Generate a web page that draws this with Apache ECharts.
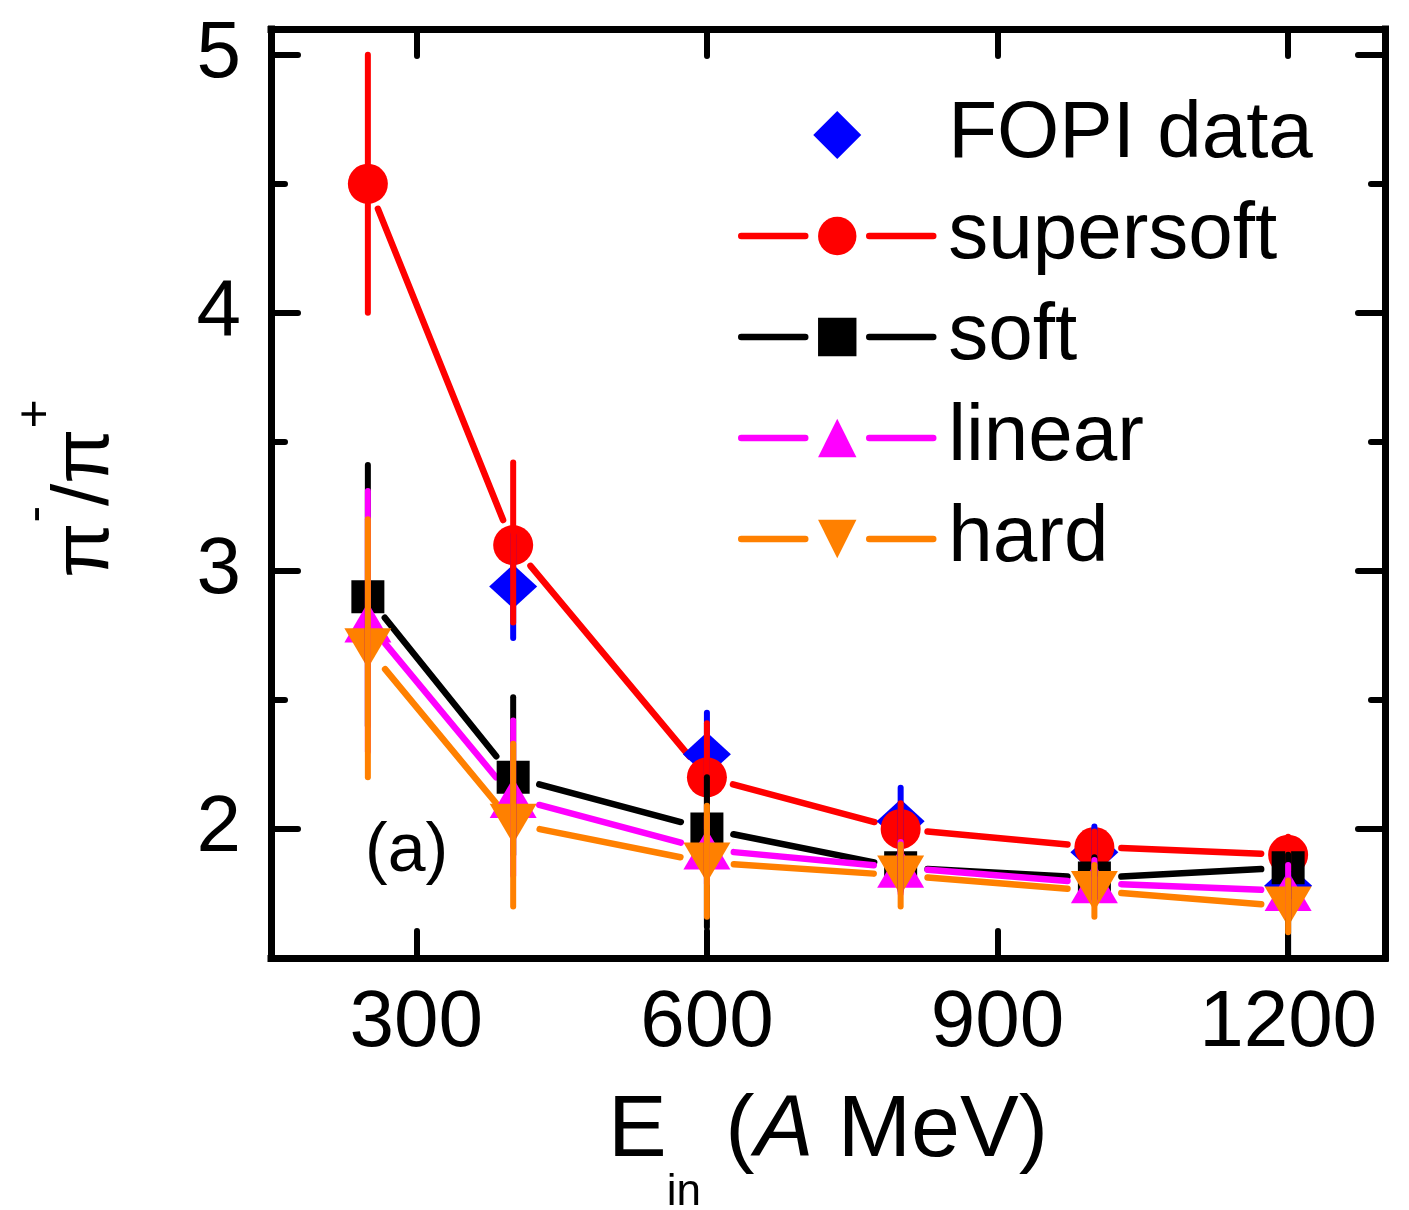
<!DOCTYPE html>
<html><head><meta charset="utf-8">
<script src="https://cdn.jsdelivr.net/npm/echarts@6/dist/echarts.min.js"></script>
<style>html,body{margin:0;padding:0;background:#fff}#c{width:1409px;height:1210px}</style>
</head><body><div id="c"></div>
<script>
// ---- data ----
const energies = [250, 400, 600, 800, 1000, 1200];

const fopiEnergies = [400, 600, 800, 1000, 1200];
const fopiRatio = [2.94, 2.29, 2.03, 1.91, 1.78];
const fopiLow   = [2.74, 2.13, 1.90, 1.82, 1.73];
const fopiHigh  = [3.14, 2.45, 2.16, 2.01, 1.83];

const supersoftRatio = [4.5, 3.1, 2.2, 2.0, 1.93, 1.9];
const supersoftLow   = [4.0, 2.8, 2.0, 1.9, 1.87, 1.84];
const supersoftHigh  = [5.0, 3.42, 2.41, 2.1, 1.99, 1.97];

const softRatio = [2.9, 2.2, 2.0, 1.85, 1.81, 1.85];
const softLow   = [2.4, 1.9, 1.62, 1.76, 1.73, 1.5];
const softHigh  = [3.41, 2.51, 2.2, 1.94, 1.89, 1.9];

const linearRatio = [2.8, 2.12, 1.92, 1.85, 1.79, 1.76];
const linearLow   = [2.3, 1.82, 1.79, 1.75, 1.72, 1.66];
const linearHigh  = [3.31, 2.42, 2.05, 1.95, 1.88, 1.86];

const hardRatio = [2.7, 2.02, 1.87, 1.82, 1.76, 1.70];
const hardLow   = [2.2, 1.7, 1.66, 1.70, 1.66, 1.60];
const hardHigh  = [3.2, 2.33, 2.09, 1.94, 1.86, 1.80];

const seriesNames = ['FOPI data', 'supersoft', 'soft', 'linear', 'hard'];
const xTicks = [300, 600, 900, 1200];
const yMajorTicks = [2, 3, 4, 5];
const yMinorTicks = [2.5, 3.5, 4.5];
const panelLabel = '(a)';

// ---- chart ----
const FONT = 'Liberation Sans, Arial, sans-serif';
const chart = echarts.init(document.getElementById('c'), null, {renderer: 'canvas'});

function pairs(xs, ys) { return xs.map((x, i) => [x, ys[i]]); }

function errorSeries(xs, lo, hi, color, z) {
  return {
    type: 'custom', z: z, silent: true, clip: true,
    data: xs.map((x, i) => [x, lo[i], hi[i]]),
    encode: {x: 0, y: [1, 2]},
    renderItem: function (params, api) {
      const a = api.coord([api.value(0), api.value(1)]);
      const b = api.coord([api.value(0), api.value(2)]);
      return {type: 'line', shape: {x1: a[0], y1: a[1], x2: b[0], y2: b[1]},
              style: {stroke: color, lineWidth: 6, lineCap: 'round'}};
    }
  };
}

const GAP = 27;
function gapLineSeries(xs, ys, color, z) {
  const segs = [];
  for (let i = 0; i < xs.length - 1; i++) segs.push([xs[i], ys[i], xs[i + 1], ys[i + 1]]);
  return {
    type: 'custom', z: z, silent: true, clip: true,
    data: segs,
    encode: {x: [0, 2], y: [1, 3]},
    renderItem: function (params, api) {
      const a = api.coord([api.value(0), api.value(1)]);
      const b = api.coord([api.value(2), api.value(3)]);
      const dx = b[0] - a[0], dy = b[1] - a[1];
      const L = Math.hypot(dx, dy);
      if (L <= 2 * GAP) return null;
      const ux = dx / L, uy = dy / L;
      return {type: 'line', shape: {x1: a[0] + ux * GAP, y1: a[1] + uy * GAP, x2: b[0] - ux * GAP, y2: b[1] - uy * GAP},
              style: {stroke: color, lineWidth: 6.5, lineCap: 'round'}};
    }
  };
}

function markerSeries(name, xs, ys, color, symbol, size, rotate, z) {
  return {
    type: 'line', name: name, z: z, silent: true,
    data: pairs(xs, ys),
    symbol: symbol, symbolSize: size, symbolRotate: rotate || 0, showAllSymbol: true,
    lineStyle: {width: 0, opacity: 0, color: color},
    itemStyle: {color: color, borderWidth: 0},
    emphasis: {disabled: true},
    animation: false
  };
}

const colors = {fopi: '#0000FF', supersoft: '#FF0000', soft: '#000000', linear: '#FF00FF', hard: '#FF8000'};

const series = [
  gapLineSeries(energies, supersoftRatio, colors.supersoft, 2),
  gapLineSeries(energies, softRatio, colors.soft, 2),
  gapLineSeries(energies, linearRatio, colors.linear, 2),
  gapLineSeries(energies, hardRatio, colors.hard, 2),
  markerSeries('FOPI data', fopiEnergies, fopiRatio, colors.fopi, 'diamond', [48, 44], 0, 3),
  markerSeries('supersoft', energies, supersoftRatio, colors.supersoft, 'circle', 40, 0, 3),
  markerSeries('soft', energies, softRatio, colors.soft, 'rect', 33, 0, 3),
  markerSeries('linear', energies, linearRatio, colors.linear, 'triangle', [47, 40], 0, 3),
  markerSeries('hard', energies, hardRatio, colors.hard, 'triangle', [47, 40], 180, 3),
  errorSeries(fopiEnergies, fopiLow, fopiHigh, colors.fopi, 4),
  errorSeries(energies, supersoftLow, supersoftHigh, colors.supersoft, 4),
  errorSeries(energies, softLow, softHigh, colors.soft, 4),
  errorSeries(energies, linearLow, linearHigh, colors.linear, 4),
  errorSeries(energies, hardLow, hardHigh, colors.hard, 4)
];

const legendColors = [colors.fopi, colors.supersoft, colors.soft, colors.linear, colors.hard];

const axisLineStyle = {color: '#000', width: 7, cap: 'square'};
const tickStyle = {color: '#000', width: 6, cap: 'round'};

function xAxisDef(pos, withLabels) {
  return {
    type: 'value', position: pos, min: 150, max: 1300,
    axisLine: {show: true, onZero: false, lineStyle: axisLineStyle},
    axisTick: {show: true, inside: true, length: 27, lineStyle: tickStyle, customValues: xTicks},
    axisLabel: {show: withLabels, customValues: xTicks, fontSize: 80, fontFamily: FONT, color: '#000', margin: 26,
                formatter: function (v) { return String(v); }},
    splitLine: {show: false}, minorTick: {show: false},
    name: withLabels ? 'E{sub|in} ({it|A} MeV)' : '',
    nameLocation: 'middle', nameGap: 74, nameMoveOverlap: false,
    nameTextStyle: {fontSize: 88, fontFamily: FONT, color: '#000', lineHeight: 200,
      rich: {
        sub: {fontSize: 44, fontFamily: FONT, color: '#000', lineHeight: 44, padding: [122, 0, 0, 0]},
        it: {fontSize: 88, fontFamily: FONT, color: '#000', fontStyle: 'italic', lineHeight: 200}
      }}
  };
}

function yAxisDef(pos, ticks, len, withLine, withLabels, withName) {
  return {
    type: 'value', position: pos, min: 1.5, max: 5.1,
    axisLine: {show: withLine, onZero: false, lineStyle: axisLineStyle},
    axisTick: {show: true, inside: true, length: len, lineStyle: tickStyle, customValues: ticks},
    axisLabel: {show: withLabels, customValues: ticks, fontSize: 80, fontFamily: FONT, color: '#000', margin: 30,
                formatter: function (v) { return String(v); }},
    splitLine: {show: false}, minorTick: {show: false},
    name: withName ? 'π{sup|-}/π{sup|+}' : '',
    nameLocation: 'middle', nameRotate: 90, nameGap: 100, nameMoveOverlap: false,
    nameTextStyle: {fontSize: 80, fontFamily: FONT, color: '#000', lineHeight: 170, padding: [0, 0, 0, 10],
      rich: {
        sup: {fontSize: 50, fontFamily: FONT, color: '#000', lineHeight: 50, padding: [0, 0, 100, 0]}
      }}
  };
}

chart.setOption({
  backgroundColor: '#fff',
  animation: false,
  grid: {left: 271, right: 24, top: 29, bottom: 252, containLabel: false, outerBoundsMode: 'none'},
  xAxis: [xAxisDef('bottom', true), xAxisDef('top', false)],
  yAxis: [
    yAxisDef('left', yMajorTicks, 27, true, true, true),
    yAxisDef('left', yMinorTicks, 14, false, false, false),
    yAxisDef('right', yMajorTicks, 27, true, false, false),
    yAxisDef('right', yMinorTicks, 14, false, false, false)
  ],
  legend: {
    orient: 'vertical', left: 738, top: 95, padding: 0,
    itemWidth: 192, itemHeight: 48, itemGap: 21,
    selectedMode: false, symbolKeepAspect: true,
    textStyle: {fontSize: 80, fontFamily: FONT, color: '#000', lineHeight: 60, padding: [0, 0, 0, 10]},
    data: seriesNames.map((n, i) => (i === 0 ? {
      name: n, icon: 'path://M0,25 L25,0 L50,25 L25,50 Z', symbolKeepAspect: true,
      itemStyle: {color: legendColors[i], borderWidth: 0}
    } : {
      name: n,
      lineStyle: {color: legendColors[i], width: 6.5, opacity: 1, cap: 'round', type: [64, 64]},
      itemStyle: {color: legendColors[i], borderWidth: 0}
    }))
  },
  title: {text: panelLabel, left: 365, top: 818, padding: 0,
          textStyle: {fontSize: 68, fontFamily: FONT, fontWeight: 'normal', color: '#000'}},
  series: series
});
</script></body></html>
